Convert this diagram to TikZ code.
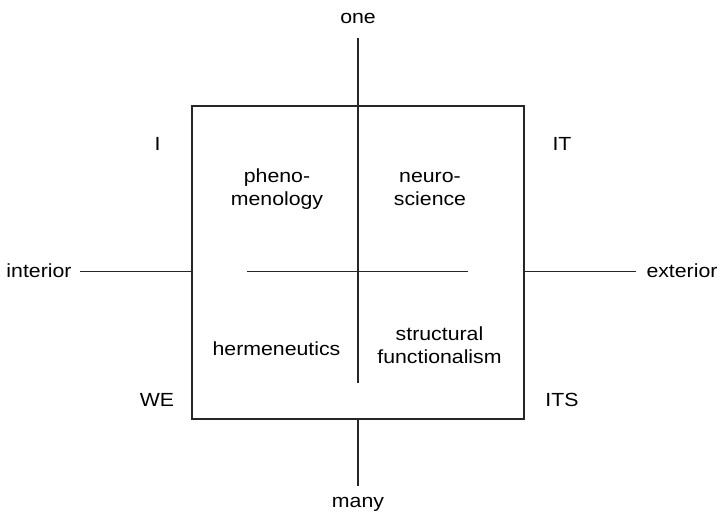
\documentclass[tikz,border=0pt]{standalone}
\usepackage{fontspec}
\setmainfont{Liberation Sans}[FakeStretch=1.12]
\begin{document}
\begin{tikzpicture}[x=1pt,y=-1pt,
  axis/.style={line width=1.3pt, black!85},
  lbl/.style={inner sep=0pt, align=center,
    font=\fontsize{19}{22.5}\selectfont}]
\useasboundingbox (0,0) rectangle (721,520);

% the square
\node[draw, axis, minimum width=332pt, minimum height=313pt, inner sep=0pt]
  (box) at (358,262.5) {};

% free ends of the axes
\coordinate (vtop) at (358,38);
\coordinate (vin)  at (358,383);
\coordinate (vbot) at (358,486);
\coordinate (hl)   at (80,271.5);
\coordinate (hr)   at (636,271.5);
\coordinate (hinl) at (247,271.5);
\coordinate (hinr) at (468,271.5);

% axes
\draw[axis] (vtop) -- (vin);
\draw[axis] (box.south) -- (vbot);
\draw[axis] (hl) -- (hl -| box.west);
\draw[axis] (hr -| box.east) -- (hr);
\draw[axis] (hinl) -- (hinr);

% pole labels
\node[lbl] (one)  at (358,18)  {one};
\node[lbl] (many) at (358,504) {many};
\node[lbl] (int)  at (39,271)  {interior};
\node[lbl] (ext)  at (682,271) {exterior};

% corner labels
\node[lbl] (i)   at (157.5,144) {I};
\node[lbl] (it)  at (562,144)   {IT};
\node[lbl] (we)  at (157,400)   {WE};
\node[lbl] (its) at (562,400)   {ITS};

% quadrant labels
\node[lbl] (phen) at (277,189)   {pheno-\\menology};
\node[lbl] (neur) at (430,189)   {neuro-\\science};
\node[lbl] (herm) at (276.5,349) {hermeneutics};
\node[lbl] (stru) at (439.5,345) {structural\\functionalism};
\end{tikzpicture}
\end{document}
